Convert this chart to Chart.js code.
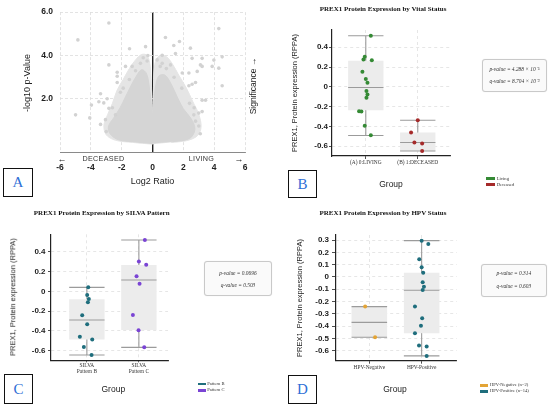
<!DOCTYPE html>
<html>
<head>
<meta charset="utf-8">
<script src="https://cdn.jsdelivr.net/npm/chart.js@4.4.1/dist/chart.umd.min.js"></script>
<style>
  body { margin:0; background:#fff; width:550px; height:410px; position:relative; overflow:hidden; font-family:"Liberation Sans", Arial, sans-serif; }
  canvas { position:absolute; }
  .t { position:absolute; white-space:nowrap; line-height:1; color:#222; transform:translate(-50%,-50%); }
  .rot { transform:translate(-50%,-50%) rotate(-90deg); }
  .title { font:bold 7px "Liberation Serif", serif; color:#111; }
  .ytitle { font-size:7.5px; }
  .group { font-size:8.5px; }
  .pbox { position:absolute; border:1px solid #c9c9c9; border-radius:3px; background:#fafafa; box-shadow:0 0 1px #ddd; }
  .pbox div { position:absolute; left:0; right:0; text-align:center; font:italic 5.4px "Liberation Serif", serif; color:#333; transform:translateY(-50%); line-height:1; }
  .sw { position:absolute; height:2.7px; }
  .lg { position:absolute; font:4.6px "Liberation Serif", serif; color:#333; white-space:nowrap; transform:translateY(-50%); line-height:1; }
  .letter { position:absolute; box-sizing:border-box; border:1.2px solid #111; background:#fff; font:15px "Liberation Serif", serif; color:#2f6fd6; display:flex; align-items:center; justify-content:center; }
</style>
</head>
<body>

<canvas id="chart-volcano" width="275" height="205" style="left:0;top:0"></canvas>
<canvas id="chart-vital"   width="275" height="205" style="left:275px;top:0"></canvas>
<canvas id="chart-silva"   width="275" height="205" style="left:0;top:205px"></canvas>
<canvas id="chart-hpv"     width="275" height="205" style="left:275px;top:205px"></canvas>

<!-- ── Panel A text ─────────────────────────────── -->
<div class="t rot" style="left:27px;top:83px;font-size:9px">-log10 p-Value</div>
<div class="t rot" style="left:253px;top:86px;font-size:8.5px">Significance →</div>
<div class="t" style="left:62px;top:159px;font-size:9px">←</div>
<div class="t" style="left:103.5px;top:159px;font-size:7.2px;letter-spacing:0.3px;color:#333">DECEASED</div>
<div class="t" style="left:201.5px;top:159px;font-size:7.2px;letter-spacing:0.3px;color:#333">LIVING</div>
<div class="t" style="left:239px;top:159px;font-size:9px">→</div>
<div class="t" style="left:152.5px;top:181px;font-size:9px">Log2 Ratio</div>
<div class="letter" style="left:3px;top:168px;width:30px;height:29px">A</div>

<!-- ── Panel B text ─────────────────────────────── -->
<div class="t title" style="left:383px;top:9px">PREX1 Protein Expression by Vital Status</div>
<div class="t rot ytitle" style="left:295px;top:92.5px">PREX1, Protein expression (RPPA)</div>
<div class="t group" style="left:391px;top:184px">Group</div>
<div class="pbox" style="left:482px;top:59px;width:63px;height:31px">
  <div style="top:10px">p-value = 4.288 × 10⁻⁵</div>
  <div style="top:22px">q-value = 8.704 × 10⁻³</div>
</div>
<div class="sw" style="left:486px;top:177.3px;width:9px;background:#358a35"></div>
<div class="lg" style="left:496.7px;top:178.7px">Living</div>
<div class="sw" style="left:486px;top:183.3px;width:9px;background:#a52a2a"></div>
<div class="lg" style="left:496.7px;top:184.7px">Deceased</div>
<div class="letter" style="left:288px;top:170px;width:29px;height:28px">B</div>

<!-- ── Panel C text ─────────────────────────────── -->
<div class="t title" style="left:101.7px;top:213.3px">PREX1 Protein Expression by SILVA Pattern</div>
<div class="t rot ytitle" style="left:13.3px;top:296.7px">PREX1, Protein expression (RPPA)</div>
<div class="t group" style="left:113.3px;top:389px">Group</div>
<div class="pbox" style="left:204px;top:261px;width:66px;height:33px">
  <div style="top:11.7px">p-value = 0.0696</div>
  <div style="top:24.3px">q-value = 0.503</div>
</div>
<div class="sw" style="left:198.3px;top:382.7px;width:7.7px;background:#1f6e7d"></div>
<div class="lg" style="left:207.3px;top:384px">Pattern B</div>
<div class="sw" style="left:198.3px;top:389.3px;width:7.7px;background:#7a44d4"></div>
<div class="lg" style="left:207.3px;top:390.3px">Pattern C</div>
<div class="letter" style="left:4px;top:374.3px;width:29px;height:29.7px">C</div>

<!-- ── Panel D text ─────────────────────────────── -->
<div class="t title" style="left:383px;top:213.3px">PREX1 Protein Expression by HPV Status</div>
<div class="t rot ytitle" style="left:300px;top:297.5px">PREX1, Protein expression (RPPA)</div>
<div class="t group" style="left:395px;top:389px">Group</div>
<div class="pbox" style="left:480.7px;top:264.3px;width:64.3px;height:30.7px">
  <div style="top:9px">p-value = 0.314</div>
  <div style="top:21.4px">q-value = 0.603</div>
</div>
<div class="sw" style="left:480px;top:384px;width:8.3px;background:#e3a436"></div>
<div class="lg" style="left:490px;top:385.3px">HPV-Negative (n=2)</div>
<div class="sw" style="left:480px;top:390px;width:8.3px;background:#1f6e7d"></div>
<div class="lg" style="left:490px;top:391.3px">HPV-Positive (n=14)</div>
<div class="letter" style="left:288.3px;top:375px;width:28.4px;height:29px">D</div>

<script>
// ── Data: panel A (volcano, Log2 ratio vs -log10 p) ─────────────
const volcanoXTicks = [-6, -4, -2, 0, 2, 4, 6];
const volcanoYTicks = [2, 4, 6];
// outline of the sparse outer cloud
const volcanoHalo = [[0,-0.08],[-1.3,0.0],[-2.4,0.1],[-3.0,0.35],[-3.15,0.8],[-2.9,1.3],[-2.6,1.8],[-2.3,2.4],
  [-1.9,2.9],[-1.5,3.4],[-1.1,3.8],[-0.7,4.05],[-0.35,4.0],[-0.15,3.5],[-0.05,2.2],[0,1.3],[0.05,2.2],[0.15,3.6],
  [0.45,4.0],[0.9,3.95],[1.3,3.6],[1.7,3.1],[2.2,2.5],[2.6,1.9],[3.0,1.3],[3.15,0.7],[2.9,0.3],[2.2,0.08],[1.2,0.0]];
// outline of the dense core
const volcanoCore = [[0,-0.05],[-1.2,0.03],[-2.2,0.12],[-2.75,0.4],[-2.85,0.75],[-2.5,1.15],[-2.1,1.6],[-1.75,2.1],
  [-1.4,2.6],[-1.05,3.05],[-0.7,3.35],[-0.38,3.15],[-0.18,2.4],[-0.05,1.6],[0,1.25],[0.05,1.6],[0.18,2.5],[0.4,3.05],
  [0.8,3.1],[1.2,2.7],[1.6,2.1],[2.0,1.55],[2.5,1.1],[2.75,0.6],[2.4,0.18],[1.3,0.03]];
const volcanoOutliers = [[-2.83,5.5],[-4.84,4.72],[4.3,5.24],[0.84,4.83],[1.75,4.65],[-0.45,4.41],[-1.49,4.31],
  [1.38,4.46],[2.46,4.34],[1.49,4.09],[0.63,4.01],[4.52,3.94],[3.22,3.87],[3.98,3.79],[-2.83,3.57],[3.11,3.57],
  [4.3,3.42],[-2.29,3.23],[2.36,3.2],[2.9,3.27],[4.52,2.61],[-3.37,2.24],[-3.96,1.72],[-4.99,1.27],[-4.07,1.13],
  [-3.48,1.87],[-2.94,2.01],[3.22,1.94],[3.0,1.35],[2.79,0.98],[-2.29,2.76],[-1.75,3.5],[2.57,2.68],[-3.37,0.83],
  [-3.16,1.82],[2.57,3.87],[3.22,3.5],[3.87,3.5],[2.79,2.76],[3.44,1.94],[2.68,1.27],[3.0,0.76],[-2.29,3.05],
  [-2.08,2.31],[-2.83,1.57],[-0.78,3.64],[-1.32,3.5],[0.63,3.64],[1.17,3.57],[1.93,3.2],[2.36,2.61],[-2.4,1.27],
  [-3.05,1.05],[3.22,1.42],[-0.6,3.9],[-0.3,4.0],[0.3,3.8],[0.5,3.5],[-1.1,3.3],[-1.5,2.9],[1.4,3.0],[1.9,2.5],
  [-1.9,2.5],[2.4,1.8],[-2.6,1.6],[2.7,1.6],[-3.0,0.5],[3.1,0.4],[-0.35,3.75],[0.9,3.4]];

// ── Data: panel B (vital status) ─────────────────────────────
const vitalGroups   = ['(A) 0:LIVING', '(B) 1:DECEASED'];
const vitalYTicks   = [-0.6, -0.4, -0.2, 0, 0.2, 0.4];
const vitalQ1       = [-0.236, -0.649];
const vitalQ3       = [0.264, -0.463];
const vitalMedian   = [-0.007, -0.564];
const vitalLow      = [-0.493, -0.649];
const vitalHigh     = [0.517, -0.338];
const livingValues  = [0.517, 0.304, 0.277, 0.270, 0.152, 0.078, 0.040, -0.041, -0.078, -0.111, -0.247, -0.250, -0.395, -0.490];
const livingJitter  = [0.097, -0.02, -0.045, 0.116, -0.065, 0, 0.032, 0.013, 0.032, 0.013, -0.129, -0.084, -0.02, 0.097];
const deceasedValues = [-0.338, -0.463, -0.564, -0.574, -0.649];
const deceasedJitter = [0, -0.129, -0.065, 0.084, 0.084];

// ── Data: panel C (SILVA pattern) ────────────────────────────
const silvaGroups   = [['SILVA', 'Pattern B'], ['SILVA', 'Pattern C']];
const silvaYTicks   = [-0.6, -0.4, -0.2, 0, 0.2, 0.4];
const silvaQ1       = [-0.488, -0.390];
const silvaQ3       = [-0.081, 0.266];
const silvaMedian   = [-0.290, 0.114];
const silvaLow      = [-0.643, -0.566];
const silvaHigh     = [0.040, 0.518];
const patternBValues = [0.040, -0.037, -0.077, -0.111, -0.242, -0.333, -0.458, -0.488, -0.562, -0.643];
const patternBJitter = [0.026, 0.006, 0.038, 0.019, -0.09, 0.006, -0.135, 0.103, -0.058, 0.09];
const patternCValues = [0.518, 0.300, 0.269, 0.152, 0.077, -0.239, -0.394, -0.566];
const patternCJitter = [0.115, 0, 0.141, -0.045, 0.013, -0.115, -0.006, 0.103];

// ── Data: panel D (HPV status) ───────────────────────────────
const hpvGroups     = ['HPV-Negative', 'HPV-Positive'];
const hpvYTicks     = [-0.6, -0.5, -0.4, -0.3, -0.2, -0.1, 0, 0.1, 0.2, 0.3];
const hpvQ1         = [-0.490, -0.458];
const hpvQ3         = [-0.241, 0.035];
const hpvMedian     = [-0.369, -0.108];
const hpvLow        = [-0.490, -0.642];
const hpvHigh       = [-0.241, 0.295];
const hpvNegValues  = [-0.241, -0.490];
const hpvNegJitter  = [-0.08, 0.11];
const hpvPosValues  = [0.295, 0.268, 0.144, 0.079, 0.035, -0.043, -0.079, -0.106, -0.241, -0.336, -0.396, -0.458, -0.558, -0.566, -0.642];
const hpvPosJitter  = [0, 0.127, -0.046, 0, 0.03, 0.02, 0.044, 0.02, -0.128, 0.01, -0.013, -0.128, -0.05, 0.096, 0.096];

// ── Style ────────────────────────────────────────────────────
const BOX_HALF = 0.34;
const GRID = '#e0e0e0';
const AXIS = '#222';
Chart.defaults.font.family = '"Liberation Sans", Arial, sans-serif';

const xy = arr => arr.map(([x, y]) => ({x, y}));
const jitterPts = (group, jit, vals) => vals.map((v, i) => ({x: group + jit[i], y: v}));
const fmtTick = v => v === 0 ? '0' : String(+v.toFixed(1));

// ── Panel A ──────────────────────────────────────────────────
new Chart(document.getElementById('chart-volcano'), {
  type: 'scatter',
  data: { datasets: [
    {type:'line', data:xy(volcanoHalo), fill:'shape', backgroundColor:'#e5e5e5', borderColor:'#e5e5e5', borderWidth:1, tension:0.35, pointRadius:0, order:3},
    {type:'line', data:xy(volcanoCore), fill:'shape', backgroundColor:'#d5d5d5', borderColor:'#d5d5d5', borderWidth:1, tension:0.35, pointRadius:0, order:2},
    {data:xy(volcanoOutliers), backgroundColor:'#d2d2d2', pointRadius:1.8, borderWidth:0, order:1},
  ]},
  options: {
    responsive:false, animation:false, events:[],
    layout:{padding:{left:0, top:7, right:30, bottom:23}},
    plugins:{legend:{display:false}, tooltip:{enabled:false}},
    scales:{
      x:{min:-6, max:6,
        afterBuildTicks: s => { s.ticks = volcanoXTicks.map(value => ({value})); },
        afterFit: s => { s.height = 30; },
        grid:{drawTicks:false, color: c => c.tick && c.tick.value === 0 ? '#222' : '#dcdcdc', lineWidth: c => c.tick && c.tick.value === 0 ? 1.4 : 0.8},
        border:{color:'#8a8a8a', width:1, dash: c => c.tick && c.tick.value !== 0 ? [3,2] : []},
        ticks:{padding:10.9, color:'#222', font:{size:8.5, weight:'bold'}, maxRotation:0, autoSkip:false}
      },
      y:{min:-0.44, max:6,
        afterBuildTicks: s => { s.ticks = volcanoYTicks.map(value => ({value})); },
        afterFit: s => { s.width = 60; },
        grid:{drawTicks:false, color:'#dcdcdc', lineWidth:0.8},
        border:{display:false, dash: c => c.tick ? [3,2] : []},
        ticks:{padding:7, color:'#222', font:{size:8.5, weight:'bold'}, callback: v => v.toFixed(1)}
      }
    }
  }
});

// ── Box-plot panels ──────────────────────────────────────────
function boxDatasets(q1, q3, med, lo, hi) {
  const segs = [];
  const gap = x => ({x, y:null});
  q1.forEach((_, i) => {
    const x = i + 1, h = BOX_HALF;
    segs.push({x, y:q3[i]}, {x, y:hi[i]}, gap(x),
              {x, y:lo[i]}, {x, y:q1[i]}, gap(x),
              {x:x-h, y:hi[i]}, {x:x+h, y:hi[i]}, gap(x),
              {x:x-h, y:lo[i]}, {x:x+h, y:lo[i]}, gap(x),
              {x:x-h, y:med[i]}, {x:x+h, y:med[i]}, gap(x));
  });
  return [
    {type:'bar', data:q1.map((v, i) => ({x:i+1, y:[v, q3[i]]})), backgroundColor:'#ececec', borderWidth:0,
     barPercentage:2*BOX_HALF, categoryPercentage:1, order:3},
    {type:'line', data:segs, borderColor:'#9b9b9b', borderWidth:1.1, pointRadius:0, spanGaps:false, fill:false, order:2},
  ];
}

function boxChart(id, o) {
  return new Chart(document.getElementById(id), {
    type: 'scatter',
    data: { datasets: [
      ...boxDatasets(o.q1, o.q3, o.med, o.lo, o.hi),
      ...o.points.map(p => ({data:p.data, backgroundColor:p.color, pointRadius:2, borderWidth:0, order:0})),
    ]},
    options: {
      responsive:false, animation:false, events:[],
      layout:{padding:o.pad},
      plugins:{legend:{display:false}, tooltip:{enabled:false}},
      scales:{
        // the bar dataset would switch offset on; keep the linear axis exact
        x:{type:'linear', min:o.xr[0], max:o.xr[1], offset:false,
          afterBuildTicks: s => { s.ticks = o.labels.map((_, i) => ({value:i+1})); },
          afterFit: s => { s.height = o.xh; },
          grid:{offset:false, color:GRID, tickColor:AXIS, tickLength:o.xtl, lineWidth:0.8},
          border:{color:AXIS, width:1.2, dash: c => c.tick ? [3,3] : []},
          ticks:{callback: v => o.labels[Math.round(v) - 1], padding:o.xpad, maxRotation:0, autoSkip:false, color:'#333',
                 font:{family:'"Liberation Serif", serif', size:5.4, lineHeight:1.1}}
        },
        y:{min:o.yr[0], max:o.yr[1],
          afterBuildTicks: s => { s.ticks = o.yTicks.map(value => ({value})); },
          afterFit: s => { s.width = o.yw; },
          grid:{color:GRID, tickColor:AXIS, tickLength:o.ytl, lineWidth:0.8},
          border:{color:AXIS, width:1.2, dash: c => c.tick ? [3,3] : []},
          ticks:{callback:fmtTick, padding:o.ypad, color:'#222', font:{size:8, weight:'bold'}}
        }
      }
    }
  });
}

boxChart('chart-vital', {
  labels:vitalGroups, yTicks:vitalYTicks,
  q1:vitalQ1, q3:vitalQ3, med:vitalMedian, lo:vitalLow, hi:vitalHigh,
  points:[{data:jitterPts(1, livingJitter, livingValues), color:'#358a35'},
          {data:jitterPts(2, deceasedJitter, deceasedValues), color:'#a52a2a'}],
  pad:{left:0, top:30, right:100, bottom:29}, yw:57, xh:20,
  xr:[0.35, 2.62], yr:[-0.70, 0.575], xtl:3, xpad:1.1, ytl:3, ypad:1
});

boxChart('chart-silva', {
  labels:silvaGroups, yTicks:silvaYTicks,
  q1:silvaQ1, q3:silvaQ3, med:silvaMedian, lo:silvaLow, hi:silvaHigh,
  points:[{data:jitterPts(1, patternBJitter, patternBValues), color:'#1f6e7d'},
          {data:jitterPts(2, patternCJitter, patternCValues), color:'#7a44d4'}],
  pad:{left:0, top:29.3, right:107, bottom:24.7}, yw:51, xh:25,
  xr:[0.31, 2.56], yr:[-0.697, 0.576], xtl:2, xpad:0, ytl:3, ypad:2.5
});

boxChart('chart-hpv', {
  labels:hpvGroups, yTicks:hpvYTicks,
  q1:hpvQ1, q3:hpvQ3, med:hpvMedian, lo:hpvLow, hi:hpvHigh,
  points:[{data:jitterPts(1, hpvNegJitter, hpvNegValues), color:'#e3a436'},
          {data:jitterPts(2, hpvPosJitter, hpvPosValues), color:'#1f6e7d'}],
  pad:{left:0, top:30, right:93.3, bottom:24.3}, yw:61, xh:25,
  xr:[0.363, 2.67], yr:[-0.681, 0.341], xtl:3, xpad:1.3, ytl:4, ypad:3
});
</script>
</body>
</html>
